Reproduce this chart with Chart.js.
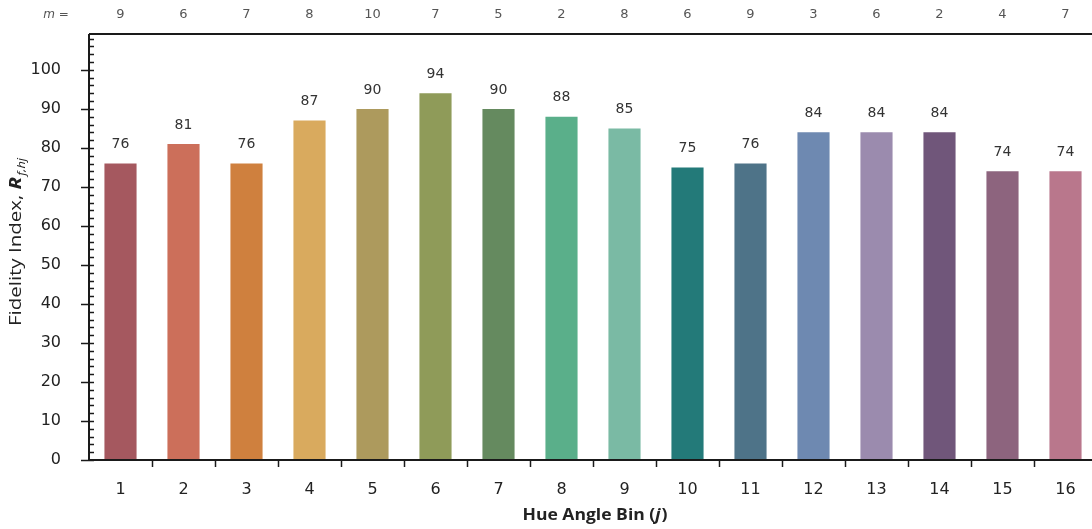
<!DOCTYPE html>
<html><head><meta charset="utf-8">
<script src="https://cdn.jsdelivr.net/npm/chart.js@4"></script>
<style>html,body{margin:0;padding:0;background:#fff;overflow:hidden}#wrap{width:1097px;height:529px;position:relative}</style>
</head><body><div id="wrap"><canvas id="c"></canvas></div>
<script>
const categories = ["1","2","3","4","5","6","7","8","9","10","11","12","13","14","15","16"];
const fidelity = [76,81,76,87,90,94,90,88,85,75,76,84,84,84,74,74];
const mCounts = [9,6,7,8,10,7,5,2,8,6,9,3,6,2,4,7];
const yTickLabels = [0,10,20,30,40,50,60,70,80,90,100];
const barColors = ["#a5585f","#cc6f5a","#cf803e","#d9aa5e","#ad9a5d","#8f9b59","#658a5f","#5aaf8a","#7abaa4","#237a79","#4e7388","#6e89b1","#9b8bae","#70567a","#8d647e","#b9778c"];

const FONT = '"DejaVu Sans", sans-serif';
const TFONT = '"Open Sans", sans-serif';

function drawRuns(ctx, runs, cx, cy, targetW) {
  let total = 0;
  runs.forEach(r => { ctx.font = r.font; r.w = ctx.measureText(r.t).width + (r.gap||0); total += r.w; });
  const k = targetW / total;
  ctx.save();
  ctx.translate(cx, cy);
  ctx.scale(k, 1);
  let x = -total/2;
  runs.forEach(r => { ctx.font = r.font; ctx.fillText(r.t, x + (r.gap||0), r.dy||0); x += r.w; });
  ctx.restore();
}

const decor = {
  id:'decor',
  afterDatasetsDraw(chart){
    const ctx = chart.ctx, a = chart.chartArea, x = chart.scales.x, y = chart.scales.y;
    ctx.save();
    ctx.strokeStyle = '#1a1a1a';
    ctx.lineWidth = 2;
    ctx.beginPath();
    ctx.moveTo(a.left, a.top); ctx.lineTo(chart.width, a.top);
    ctx.moveTo(a.left, a.top); ctx.lineTo(a.left, a.bottom);
    ctx.moveTo(a.left-1, a.bottom); ctx.lineTo(a.right, a.bottom);
    ctx.stroke();
    ctx.lineWidth = 1.5;
    for (let v = 0; v <= y.max; v += 2) {
      const py = Math.round(y.getPixelForValue(v)) + 0.5;
      ctx.beginPath();
      if (v % 10 === 0) { ctx.moveTo(a.left-8, py); ctx.lineTo(a.left+5, py); }
      else { ctx.moveTo(a.left, py); ctx.lineTo(a.left+5, py); }
      ctx.stroke();
    }
    for (let i = 1; i < categories.length; i++) {
      const px = Math.round((x.getPixelForValue(i-1) + x.getPixelForValue(i))/2) + 0.5;
      ctx.beginPath(); ctx.moveTo(px, a.bottom); ctx.lineTo(px, a.bottom+7); ctx.stroke();
    }
    const meta = chart.getDatasetMeta(0);
    ctx.fillStyle = '#333';
    ctx.font = '14px ' + FONT;
    ctx.textAlign = 'center'; ctx.textBaseline = 'middle';
    meta.data.forEach((bar, i) => {
      ctx.fillText(String(fidelity[i]), bar.x, bar.y - 19);
    });
    ctx.fillStyle = '#555';
    ctx.font = '13px ' + FONT;
    categories.forEach((c, i) => {
      ctx.fillText(String(mCounts[i]), x.getPixelForValue(i), 15);
    });
    ctx.font = 'italic 12px ' + FONT;
    ctx.fillText('m =', 56, 15);
    ctx.fillStyle = '#222';
    ctx.textAlign = 'left'; ctx.textBaseline = 'alphabetic';
    drawRuns(ctx, [
      {t:'Hue Angle Bin (', font:'bold 16px ' + TFONT},
      {t:'j', font:'bold italic 16px ' + TFONT},
      {t:')', font:'bold 16px ' + TFONT, gap:1}
    ], 595, 520, 145);
    ctx.save();
    ctx.translate(21, 242);
    ctx.rotate(-Math.PI/2);
    drawRuns(ctx, [
      {t:'Fidelity Index, ', font:'16px ' + TFONT},
      {t:'R', font:'bold italic 16px ' + TFONT},
      {t:'f,hj', font:'italic 10px ' + TFONT, gap:1, dy:4}
    ], 0, 0, 168);
    ctx.restore();
    ctx.restore();
  }
};

new Chart(document.getElementById('c'), {
  type:'bar',
  data:{ labels: categories, datasets:[{ data: fidelity, backgroundColor: barColors, borderWidth:0, categoryPercentage:1, barPercentage:0.51 }] },
  options:{
    responsive:true, maintainAspectRatio:false, animation:false, devicePixelRatio:1,
    layout:{ padding:{ top:34, right:0, left:0, bottom:0 } },
    plugins:{ legend:{display:false}, tooltip:{enabled:false} },
    scales:{
      x:{
        grid:{display:false}, border:{display:false},
        ticks:{ color:'#222', font:{ size:16, family:FONT }, padding:12, maxRotation:0 },
        afterFit(s){ s.height = 69; }
      },
      y:{
        min:0, max:109.2,
        grid:{display:false}, border:{display:false},
        afterBuildTicks(s){ s.ticks = yTickLabels.map(v => ({value:v})); },
        ticks:{ color:'#222', font:{ size:16, family:FONT }, padding:20 },
        afterFit(s){ s.width = 89; }
      }
    }
  },
  plugins:[decor]
});
</script></body></html>
